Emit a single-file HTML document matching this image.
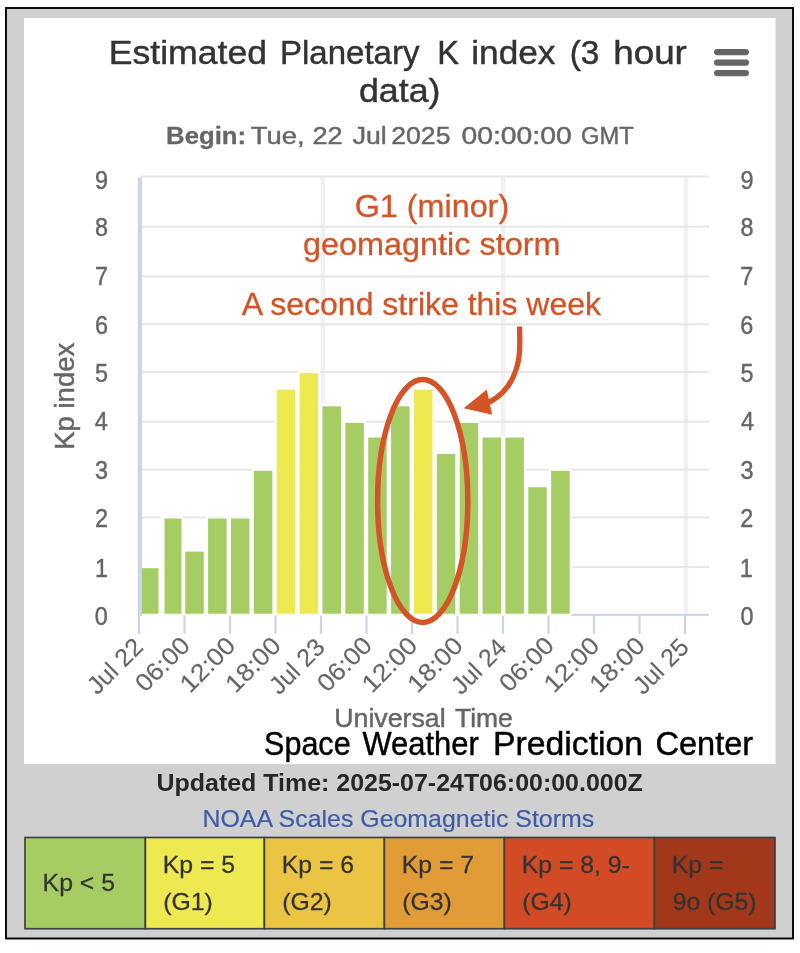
<!DOCTYPE html>
<html><head><meta charset="utf-8"><title>Estimated Planetary K index</title>
<style>
html,body{margin:0;padding:0;background:#fff;}
body{width:800px;height:953px;position:relative;overflow:hidden;font-family:"Liberation Sans", sans-serif;}
</style></head><body>
<svg width="800" height="953" viewBox="0 0 800 953" style="position:absolute;left:0;top:0;display:block;will-change:transform" font-family='"Liberation Sans", sans-serif'>
<rect x="0" y="0" width="800" height="953" fill="#ffffff"/>
<rect x="6" y="8" width="787" height="930.5" fill="#d0d0d0" stroke="#000" stroke-width="1.9"/>
<rect x="24" y="18" width="751.5" height="746.1" fill="#ffffff"/>
<rect x="320.60" y="177.60" width="4.4" height="437.25" fill="#f1f1f1"/>
<rect x="500.90" y="177.60" width="4.4" height="437.25" fill="#f1f1f1"/>
<rect x="683.80" y="177.60" width="4.4" height="437.25" fill="#f1f1f1"/>
<rect x="140.0" y="566.05" width="569.0" height="2" fill="#e6e6e6"/>
<rect x="140.0" y="516.35" width="569.0" height="2" fill="#e6e6e6"/>
<rect x="140.0" y="468.65" width="569.0" height="2" fill="#e6e6e6"/>
<rect x="140.0" y="420.80" width="569.0" height="2" fill="#e6e6e6"/>
<rect x="140.0" y="371.00" width="569.0" height="2" fill="#e6e6e6"/>
<rect x="140.0" y="323.25" width="569.0" height="2" fill="#e6e6e6"/>
<rect x="140.0" y="275.45" width="569.0" height="2" fill="#e6e6e6"/>
<rect x="140.0" y="225.70" width="569.0" height="2" fill="#e6e6e6"/>
<rect x="140.0" y="175.60" width="569.0" height="2" fill="#e6e6e6"/>
<rect x="138.0" y="613.85" width="571.0" height="2" fill="#cdd4ea"/>
<rect x="137.90" y="614.85" width="2.2" height="19" fill="#cdd4ea"/>
<rect x="183.40" y="614.85" width="2.2" height="19" fill="#cdd4ea"/>
<rect x="228.90" y="614.85" width="2.2" height="19" fill="#cdd4ea"/>
<rect x="274.40" y="614.85" width="2.2" height="19" fill="#cdd4ea"/>
<rect x="319.90" y="614.85" width="2.2" height="19" fill="#cdd4ea"/>
<rect x="365.40" y="614.85" width="2.2" height="19" fill="#cdd4ea"/>
<rect x="410.90" y="614.85" width="2.2" height="19" fill="#cdd4ea"/>
<rect x="456.40" y="614.85" width="2.2" height="19" fill="#cdd4ea"/>
<rect x="501.90" y="614.85" width="2.2" height="19" fill="#cdd4ea"/>
<rect x="547.40" y="614.85" width="2.2" height="19" fill="#cdd4ea"/>
<rect x="592.90" y="614.85" width="2.2" height="19" fill="#cdd4ea"/>
<rect x="638.40" y="614.85" width="2.2" height="19" fill="#cdd4ea"/>
<rect x="683.90" y="614.85" width="2.2" height="19" fill="#cdd4ea"/>
<rect x="137.30" y="566.05" width="22.90" height="49.80" fill="#ffffff"/>
<rect x="139.50" y="568.15" width="19.00" height="45.60" fill="#a6cd63"/>
<rect x="160.17" y="516.35" width="22.90" height="99.50" fill="#ffffff"/>
<rect x="164.50" y="518.45" width="17.00" height="95.30" fill="#a6cd63"/>
<rect x="183.04" y="549.48" width="22.90" height="66.37" fill="#ffffff"/>
<rect x="185.24" y="551.58" width="18.50" height="62.17" fill="#a6cd63"/>
<rect x="205.91" y="516.35" width="22.90" height="99.50" fill="#ffffff"/>
<rect x="208.11" y="518.45" width="18.50" height="95.30" fill="#a6cd63"/>
<rect x="228.78" y="516.35" width="22.90" height="99.50" fill="#ffffff"/>
<rect x="230.98" y="518.45" width="18.50" height="95.30" fill="#a6cd63"/>
<rect x="251.65" y="468.65" width="22.90" height="147.20" fill="#ffffff"/>
<rect x="253.85" y="470.75" width="18.50" height="143.00" fill="#a6cd63"/>
<rect x="274.52" y="387.60" width="22.90" height="228.25" fill="#ffffff"/>
<rect x="276.72" y="389.70" width="18.50" height="224.05" fill="#efe951"/>
<rect x="297.39" y="371.00" width="22.90" height="244.85" fill="#ffffff"/>
<rect x="299.59" y="373.10" width="18.50" height="240.65" fill="#efe951"/>
<rect x="320.26" y="404.20" width="22.90" height="211.65" fill="#ffffff"/>
<rect x="322.46" y="406.30" width="18.50" height="207.45" fill="#a6cd63"/>
<rect x="343.13" y="420.80" width="22.90" height="195.05" fill="#ffffff"/>
<rect x="345.33" y="422.90" width="18.50" height="190.85" fill="#a6cd63"/>
<rect x="366.00" y="435.45" width="22.90" height="180.40" fill="#ffffff"/>
<rect x="368.20" y="437.55" width="18.50" height="176.20" fill="#a6cd63"/>
<rect x="388.87" y="404.20" width="22.90" height="211.65" fill="#ffffff"/>
<rect x="391.07" y="406.30" width="18.50" height="207.45" fill="#a6cd63"/>
<rect x="411.74" y="387.60" width="22.90" height="228.25" fill="#ffffff"/>
<rect x="413.94" y="389.70" width="18.50" height="224.05" fill="#efe951"/>
<rect x="434.61" y="451.90" width="22.90" height="163.95" fill="#ffffff"/>
<rect x="436.81" y="454.00" width="18.50" height="159.75" fill="#a6cd63"/>
<rect x="457.48" y="420.80" width="22.90" height="195.05" fill="#ffffff"/>
<rect x="459.68" y="422.90" width="18.50" height="190.85" fill="#a6cd63"/>
<rect x="480.35" y="435.45" width="22.90" height="180.40" fill="#ffffff"/>
<rect x="482.55" y="437.55" width="18.50" height="176.20" fill="#a6cd63"/>
<rect x="503.22" y="435.45" width="22.90" height="180.40" fill="#ffffff"/>
<rect x="505.42" y="437.55" width="18.50" height="176.20" fill="#a6cd63"/>
<rect x="526.09" y="485.10" width="22.90" height="130.75" fill="#ffffff"/>
<rect x="528.29" y="487.20" width="18.50" height="126.55" fill="#a6cd63"/>
<rect x="548.96" y="468.65" width="22.90" height="147.20" fill="#ffffff"/>
<rect x="551.16" y="470.75" width="18.50" height="143.00" fill="#a6cd63"/>
<rect x="137.8" y="177.60" width="4.2" height="438.25" fill="#cdd4ea"/>
<text transform="translate(94.82,625.05) scale(0.93,1)" font-size="25.2" fill="#666" stroke="#666" stroke-width="0.45">0</text>
<text transform="translate(740.56,625.05) scale(0.93,1)" font-size="25.2" fill="#666" stroke="#666" stroke-width="0.45">0</text>
<text transform="translate(95.10,576.55) scale(0.93,1)" font-size="25.2" fill="#666" stroke="#666" stroke-width="0.45">1</text>
<text transform="translate(739.63,576.55) scale(0.93,1)" font-size="25.2" fill="#666" stroke="#666" stroke-width="0.45">1</text>
<text transform="translate(95.10,526.85) scale(0.93,1)" font-size="25.2" fill="#666" stroke="#666" stroke-width="0.45">2</text>
<text transform="translate(740.28,526.85) scale(0.93,1)" font-size="25.2" fill="#666" stroke="#666" stroke-width="0.45">2</text>
<text transform="translate(94.91,479.35) scale(0.93,1)" font-size="25.2" fill="#666" stroke="#666" stroke-width="0.45">3</text>
<text transform="translate(740.56,479.35) scale(0.93,1)" font-size="25.2" fill="#666" stroke="#666" stroke-width="0.45">3</text>
<text transform="translate(94.63,429.80) scale(0.93,1)" font-size="25.2" fill="#666" stroke="#666" stroke-width="0.45">4</text>
<text transform="translate(740.93,429.80) scale(0.93,1)" font-size="25.2" fill="#666" stroke="#666" stroke-width="0.45">4</text>
<text transform="translate(94.91,382.20) scale(0.93,1)" font-size="25.2" fill="#666" stroke="#666" stroke-width="0.45">5</text>
<text transform="translate(740.47,382.20) scale(0.93,1)" font-size="25.2" fill="#666" stroke="#666" stroke-width="0.45">5</text>
<text transform="translate(94.91,334.45) scale(0.93,1)" font-size="25.2" fill="#666" stroke="#666" stroke-width="0.45">6</text>
<text transform="translate(740.28,334.45) scale(0.93,1)" font-size="25.2" fill="#666" stroke="#666" stroke-width="0.45">6</text>
<text transform="translate(95.10,285.15) scale(0.93,1)" font-size="25.2" fill="#666" stroke="#666" stroke-width="0.45">7</text>
<text transform="translate(740.28,285.15) scale(0.93,1)" font-size="25.2" fill="#666" stroke="#666" stroke-width="0.45">7</text>
<text transform="translate(94.91,236.10) scale(0.93,1)" font-size="25.2" fill="#666" stroke="#666" stroke-width="0.45">8</text>
<text transform="translate(740.47,236.10) scale(0.93,1)" font-size="25.2" fill="#666" stroke="#666" stroke-width="0.45">8</text>
<text transform="translate(95.00,188.80) scale(0.93,1)" font-size="25.2" fill="#666" stroke="#666" stroke-width="0.45">9</text>
<text transform="translate(740.38,188.80) scale(0.93,1)" font-size="25.2" fill="#666" stroke="#666" stroke-width="0.45">9</text>
<g transform="translate(73.6,447.6) rotate(-90)"><text transform="translate(-2.15,0.00) scale(1.0264,1)" font-size="26.8" fill="#666" stroke="#666" stroke-width="0.45">Kp index</text></g>
<g transform="translate(143.70,649.30) rotate(-45)"><text transform="translate(-65.80,0.00) scale(1.0126,1)" font-size="24.8" fill="#666" stroke="#666" stroke-width="0.15">Jul 22</text></g>
<g transform="translate(190.80,647.70) rotate(-45)"><text transform="translate(-64.45,0.00) scale(1.0536,1)" font-size="24.8" fill="#666" stroke="#666" stroke-width="0.15">06:00</text></g>
<g transform="translate(236.30,647.70) rotate(-45)"><text transform="translate(-65.43,0.00) scale(1.0696,1)" font-size="24.8" fill="#666" stroke="#666" stroke-width="0.15">12:00</text></g>
<g transform="translate(281.80,647.70) rotate(-45)"><text transform="translate(-65.43,0.00) scale(1.0696,1)" font-size="24.8" fill="#666" stroke="#666" stroke-width="0.15">18:00</text></g>
<g transform="translate(325.70,649.30) rotate(-45)"><text transform="translate(-65.80,0.00) scale(1.0095,1)" font-size="24.8" fill="#666" stroke="#666" stroke-width="0.15">Jul 23</text></g>
<g transform="translate(372.80,647.70) rotate(-45)"><text transform="translate(-64.45,0.00) scale(1.0536,1)" font-size="24.8" fill="#666" stroke="#666" stroke-width="0.15">06:00</text></g>
<g transform="translate(418.30,647.70) rotate(-45)"><text transform="translate(-65.43,0.00) scale(1.0696,1)" font-size="24.8" fill="#666" stroke="#666" stroke-width="0.15">12:00</text></g>
<g transform="translate(463.80,647.70) rotate(-45)"><text transform="translate(-65.43,0.00) scale(1.0696,1)" font-size="24.8" fill="#666" stroke="#666" stroke-width="0.15">18:00</text></g>
<g transform="translate(507.70,649.30) rotate(-45)"><text transform="translate(-65.80,0.00) scale(1.0048,1)" font-size="24.8" fill="#666" stroke="#666" stroke-width="0.15">Jul 24</text></g>
<g transform="translate(554.80,647.70) rotate(-45)"><text transform="translate(-64.45,0.00) scale(1.0536,1)" font-size="24.8" fill="#666" stroke="#666" stroke-width="0.15">06:00</text></g>
<g transform="translate(600.30,647.70) rotate(-45)"><text transform="translate(-65.43,0.00) scale(1.0696,1)" font-size="24.8" fill="#666" stroke="#666" stroke-width="0.15">12:00</text></g>
<g transform="translate(645.80,647.70) rotate(-45)"><text transform="translate(-65.43,0.00) scale(1.0696,1)" font-size="24.8" fill="#666" stroke="#666" stroke-width="0.15">18:00</text></g>
<g transform="translate(689.70,649.30) rotate(-45)"><text transform="translate(-65.80,0.00) scale(1.0095,1)" font-size="24.8" fill="#666" stroke="#666" stroke-width="0.15">Jul 25</text></g>
<text transform="translate(108.72,63.80) scale(1.0609,1)" font-size="33.6" fill="#333" stroke="#333" stroke-width="0.45">Estimated</text>
<text transform="translate(279.92,63.80) scale(0.9833,1)" font-size="33.6" fill="#333" stroke="#333" stroke-width="0.45">Planetary</text>
<text transform="translate(437.25,63.80) scale(0.9730,1)" font-size="33.6" fill="#333" stroke="#333" stroke-width="0.45">K</text>
<text transform="translate(471.30,63.80) scale(1.0483,1)" font-size="33.6" fill="#333" stroke="#333" stroke-width="0.45">index</text>
<text transform="translate(569.73,63.80) scale(0.9948,1)" font-size="33.6" fill="#333" stroke="#333" stroke-width="0.45">(3</text>
<text transform="translate(613.20,63.80) scale(1.0956,1)" font-size="33.6" fill="#333" stroke="#333" stroke-width="0.45">hour</text>
<text transform="translate(358.88,102.40) scale(1.0665,1)" font-size="33.6" fill="#333" stroke="#333" stroke-width="0.45">data)</text>
<text transform="translate(166.11,143.90) scale(1.0593,1)" font-size="24.3" fill="#666" font-weight="bold" stroke="#666" stroke-width="0.3">Begin:</text>
<text transform="translate(250.68,143.90) scale(1.1304,1)" font-size="24.3" fill="#666" stroke="#666" stroke-width="0.45">Tue,</text>
<text transform="translate(312.41,143.90) scale(1.1172,1)" font-size="24.3" fill="#666" stroke="#666" stroke-width="0.45">22</text>
<text transform="translate(352.77,143.90) scale(1.0938,1)" font-size="24.3" fill="#666" stroke="#666" stroke-width="0.45">Jul</text>
<text transform="translate(391.18,143.90) scale(1.0975,1)" font-size="24.3" fill="#666" stroke="#666" stroke-width="0.45">2025</text>
<text transform="translate(461.45,143.90) scale(1.1652,1)" font-size="24.3" fill="#666" stroke="#666" stroke-width="0.45">00:00:00</text>
<text transform="translate(581.03,143.90) scale(0.9743,1)" font-size="24.3" fill="#666" stroke="#666" stroke-width="0.45">GMT</text>
<rect x="714" y="49" width="35" height="6.2" rx="3.1" fill="#666"/>
<rect x="714" y="59.5" width="35" height="6.2" rx="3.1" fill="#666"/>
<rect x="714" y="70" width="35" height="6.2" rx="3.1" fill="#666"/>
<text transform="translate(354.68,217.00) scale(1.0363,1)" font-size="31.2" fill="#d35426" stroke="#d35426" stroke-width="0.3">G1 (minor)</text>
<text transform="translate(302.99,255.00) scale(1.0392,1)" font-size="31.2" fill="#d35426" stroke="#d35426" stroke-width="0.3">geomagntic storm</text>
<text transform="translate(241.80,314.50) scale(1.0261,1)" font-size="31.2" fill="#d35426" stroke="#d35426" stroke-width="0.3">A second strike this week</text>
<ellipse cx="422.7" cy="501" rx="45.1" ry="121.4" fill="none" stroke="#d35426" stroke-width="5.5"/>
<path d="M519.5,326.5 C520.5,351 519.6,364 512.5,378.5 C506.5,390.5 498,398 488,402.8" fill="none" stroke="#d35426" stroke-width="5.3"/>
<path d="M463.7,408.3 L486.8,389.5 L492.2,414.7 Z" fill="#d35426"/>
<text transform="translate(334.22,727.10) scale(1.0696,1)" font-size="25" fill="#666" stroke="#666" stroke-width="0.45">Universal</text>
<text transform="translate(454.97,727.10) scale(1.0580,1)" font-size="25" fill="#666" stroke="#666" stroke-width="0.45">Time</text>
<text transform="translate(264.05,754.70) scale(0.9339,1)" font-size="32.7" fill="#000" stroke="#000" stroke-width="0.45">Space</text>
<text transform="translate(362.50,754.70) scale(0.9460,1)" font-size="32.7" fill="#000" stroke="#000" stroke-width="0.45">Weather</text>
<text transform="translate(493.12,754.70) scale(1.0314,1)" font-size="32.7" fill="#000" stroke="#000" stroke-width="0.45">Prediction</text>
<text transform="translate(655.47,754.70) scale(0.9953,1)" font-size="32.7" fill="#000" stroke="#000" stroke-width="0.45">Center</text>
<text transform="translate(156.54,790.80) scale(1.0403,1)" font-size="24" fill="#262626" font-weight="bold">Updated Time: 2025-07-24T06:00:00.000Z</text>
<text transform="translate(202.48,827.00) scale(1.0651,1)" font-size="23.4" fill="#3d5ca7" stroke="#3d5ca7" stroke-width="0.2">NOAA Scales Geomagnetic Storms</text>
<rect x="25" y="837.5" width="120.4" height="91.20000000000005" fill="#a6cd63" stroke="#3c4145" stroke-width="1.7"/>
<text transform="translate(42.61,891.2) scale(1.05,1)" font-size="23.6" fill="#333" stroke="#333" stroke-width="0.25">Kp &lt; 5</text>
<rect x="145.4" y="837.5" width="118.99999999999997" height="91.20000000000005" fill="#efe951" stroke="#3c4145" stroke-width="1.7"/>
<text transform="translate(162.81,873.4) scale(1.05,1)" font-size="23.6" fill="#333" stroke="#333" stroke-width="0.25">Kp = 5</text>
<text transform="translate(163.33,909.7) scale(1.05,1)" font-size="23.6" fill="#333" stroke="#333" stroke-width="0.25">(G1)</text>
<rect x="264.4" y="837.5" width="120.0" height="91.20000000000005" fill="#ecc443" stroke="#3c4145" stroke-width="1.7"/>
<text transform="translate(281.80,873.4) scale(1.05,1)" font-size="23.6" fill="#333" stroke="#333" stroke-width="0.25">Kp = 6</text>
<text transform="translate(282.33,909.7) scale(1.05,1)" font-size="23.6" fill="#333" stroke="#333" stroke-width="0.25">(G2)</text>
<rect x="384.4" y="837.5" width="120.0" height="91.20000000000005" fill="#e19c37" stroke="#3c4145" stroke-width="1.7"/>
<text transform="translate(401.80,873.4) scale(1.05,1)" font-size="23.6" fill="#333" stroke="#333" stroke-width="0.25">Kp = 7</text>
<text transform="translate(402.33,909.7) scale(1.05,1)" font-size="23.6" fill="#333" stroke="#333" stroke-width="0.25">(G3)</text>
<rect x="504.4" y="837.5" width="150.0" height="91.20000000000005" fill="#d24b24" stroke="#3c4145" stroke-width="1.7"/>
<text transform="translate(521.80,873.4) scale(1.05,1)" font-size="23.6" fill="#333" stroke="#333" stroke-width="0.25">Kp = 8, 9-</text>
<text transform="translate(522.33,909.7) scale(1.05,1)" font-size="23.6" fill="#333" stroke="#333" stroke-width="0.25">(G4)</text>
<rect x="654.4" y="837.5" width="120.60000000000002" height="91.20000000000005" fill="#a2371a" stroke="#3c4145" stroke-width="1.7"/>
<text transform="translate(671.80,873.4) scale(1.05,1)" font-size="23.6" fill="#333" stroke="#333" stroke-width="0.25">Kp =</text>
<text transform="translate(672.64,909.7) scale(1.05,1)" font-size="23.6" fill="#333" stroke="#333" stroke-width="0.25">9o (G5)</text>
</svg>
</body></html>
